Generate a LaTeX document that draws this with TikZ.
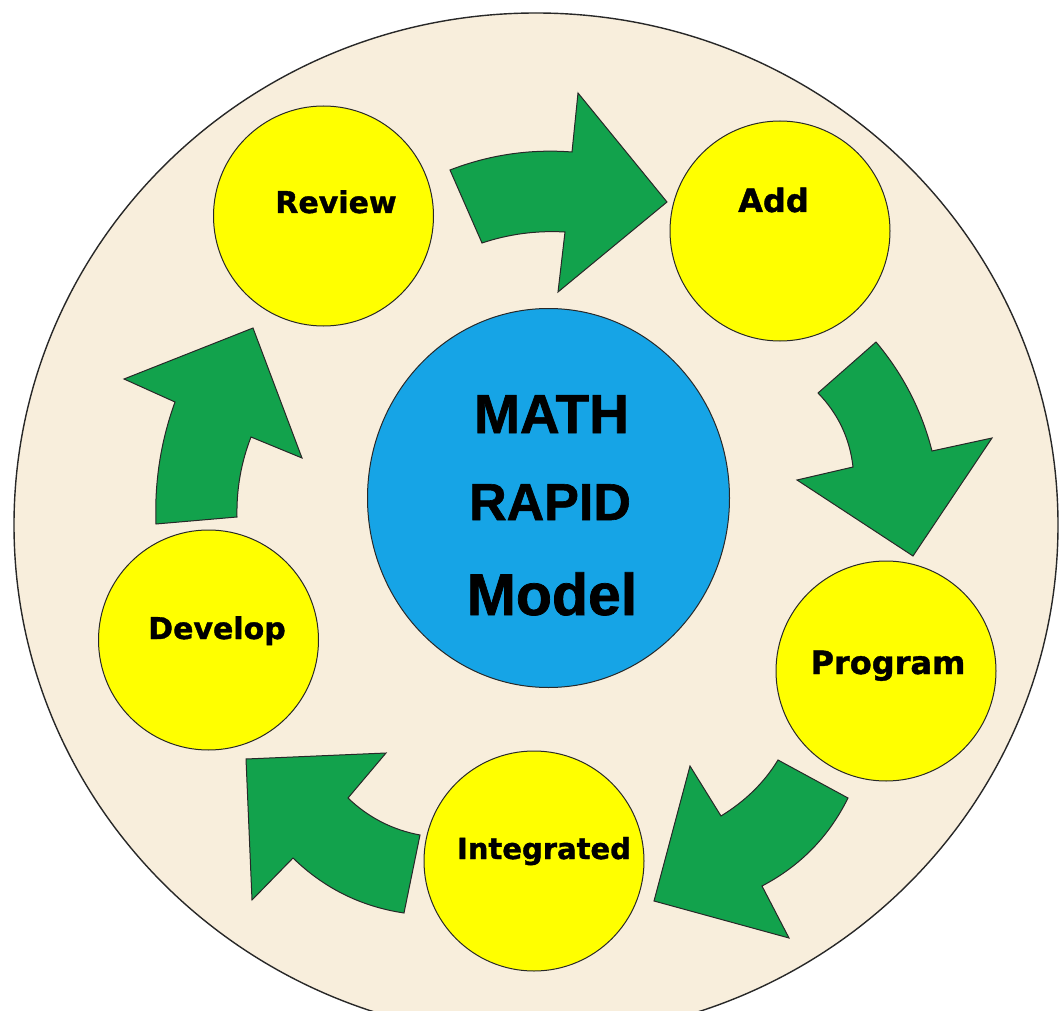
\documentclass[tikz,border=0pt]{standalone}
\usepackage{fontspec}
\newfontfamily\lblfont{DejaVu Sans}[BoldFeatures={FakeBold=1.2}]
\newfontfamily\ctrfont{Liberation Sans}[BoldFeatures={FakeBold=1.2}]
\usetikzlibrary{shapes.geometric}
\definecolor{cream}{RGB}{248,238,220}
\definecolor{flowgreen}{RGB}{18,162,76}
\definecolor{hubblue}{RGB}{22,164,230}
\definecolor{stageyellow}{RGB}{255,255,0}
\definecolor{edgegray}{RGB}{40,40,40}
\begin{document}
\begin{tikzpicture}[x=1pt,y=-1pt,
  bgdisk/.style={ellipse,fill=cream,draw=edgegray,line width=1.4pt,minimum width=1044pt,minimum height=1024pt,inner sep=0pt},
  stage/.style={circle,fill=stageyellow,draw=edgegray,line width=1pt,minimum size=220pt,inner sep=0pt},
  hub/.style={ellipse,fill=hubblue,draw=edgegray,line width=1pt,minimum width=362pt,minimum height=379pt,inner sep=0pt},
  flow/.style={fill=flowgreen,draw=edgegray,line width=1pt,line join=miter},
  lbl/.style={anchor=base,inner sep=0pt,font=\lblfont\bfseries},
  ctr/.style={anchor=base,inner sep=0pt,font=\ctrfont\bfseries}]
\useasboundingbox (0,0) rectangle (1063,1011);
\clip (0,0) rectangle (1063,1011);
\fill[white] (0,0) rectangle (1063,1011);
\node[bgdisk] (disk) at (536,525) {};
% curved arrows
\draw[flow] (450,170) .. controls (489.3,154.8) and (530,148.8) .. (572,152) -- (578,93) -- (667,202) -- (558,292) -- (565,232) .. controls (536.6,230.4) and (509,234) .. (482,243) -- cycle;
\draw[flow] (876,342) .. controls (903,374.1) and (921.7,410.4) .. (932,451) -- (992,438) -- (913,556) -- (797,480) -- (853,467) .. controls (849.8,438.3) and (838.1,413.7) .. (818,393) -- cycle;
\draw[flow] (848,798) .. controls (828.9,836.7) and (800.2,866) .. (762,886) -- (789,938) -- (654,901) -- (690,766) -- (721,816) .. controls (744.7,801.4) and (763.7,783.4) .. (778,760) -- cycle;
\draw[flow] (404,913) .. controls (361.1,906.6) and (324.1,888.3) .. (293,858) -- (252,900) -- (246,759) -- (386,753) -- (348,798) .. controls (368.3,817.5) and (392.3,829.8) .. (420,835) -- cycle;
\draw[flow] (237,517) .. controls (236.4,489.4) and (241,462.7) .. (251,437) -- (302,458) -- (253,328) -- (124,379) -- (175,402) .. controls (160.7,441.5) and (154.4,482.1) .. (156,524) -- cycle;
% stages
\node[stage] (review) at (323.5,216) {};
\node[stage] (add) at (780,231) {};
\node[stage] (program) at (886,671) {};
\node[stage] (integrated) at (534,861) {};
\node[stage] (develop) at (208.5,640) {};
\node[hub] (hub) at (548.5,498) {};
% labels
\node[lbl,font=\lblfont\bfseries\fontsize{30}{30}\selectfont] (reviewt) at (336,213) {Review};
\node[lbl,font=\lblfont\bfseries\fontsize{32}{32}\selectfont] (addt) at (773.5,212) {Add};
\node[lbl,font=\lblfont\bfseries\fontsize{32}{32}\selectfont] (programt) at (888,674) {Program};
\node[lbl,font=\lblfont\bfseries\fontsize{29}{29}\selectfont] (integratedt) at (544,859) {Integrated};
\node[lbl,font=\lblfont\bfseries\fontsize{30}{30}\selectfont] (developt) at (217,639) {Develop};
\node[ctr,font=\ctrfont\bfseries\fontsize{55}{55}\selectfont] (matht) at (551.5,433) {MATH};
\node[ctr,font=\ctrfont\bfseries\fontsize{52}{52}\selectfont] (rapidt) at (550,520) {RAPID};
\node[ctr,font=\ctrfont\bfseries\fontsize{59}{59}\selectfont] (modelt) at (552,615) {Model};
\end{tikzpicture}
\end{document}
